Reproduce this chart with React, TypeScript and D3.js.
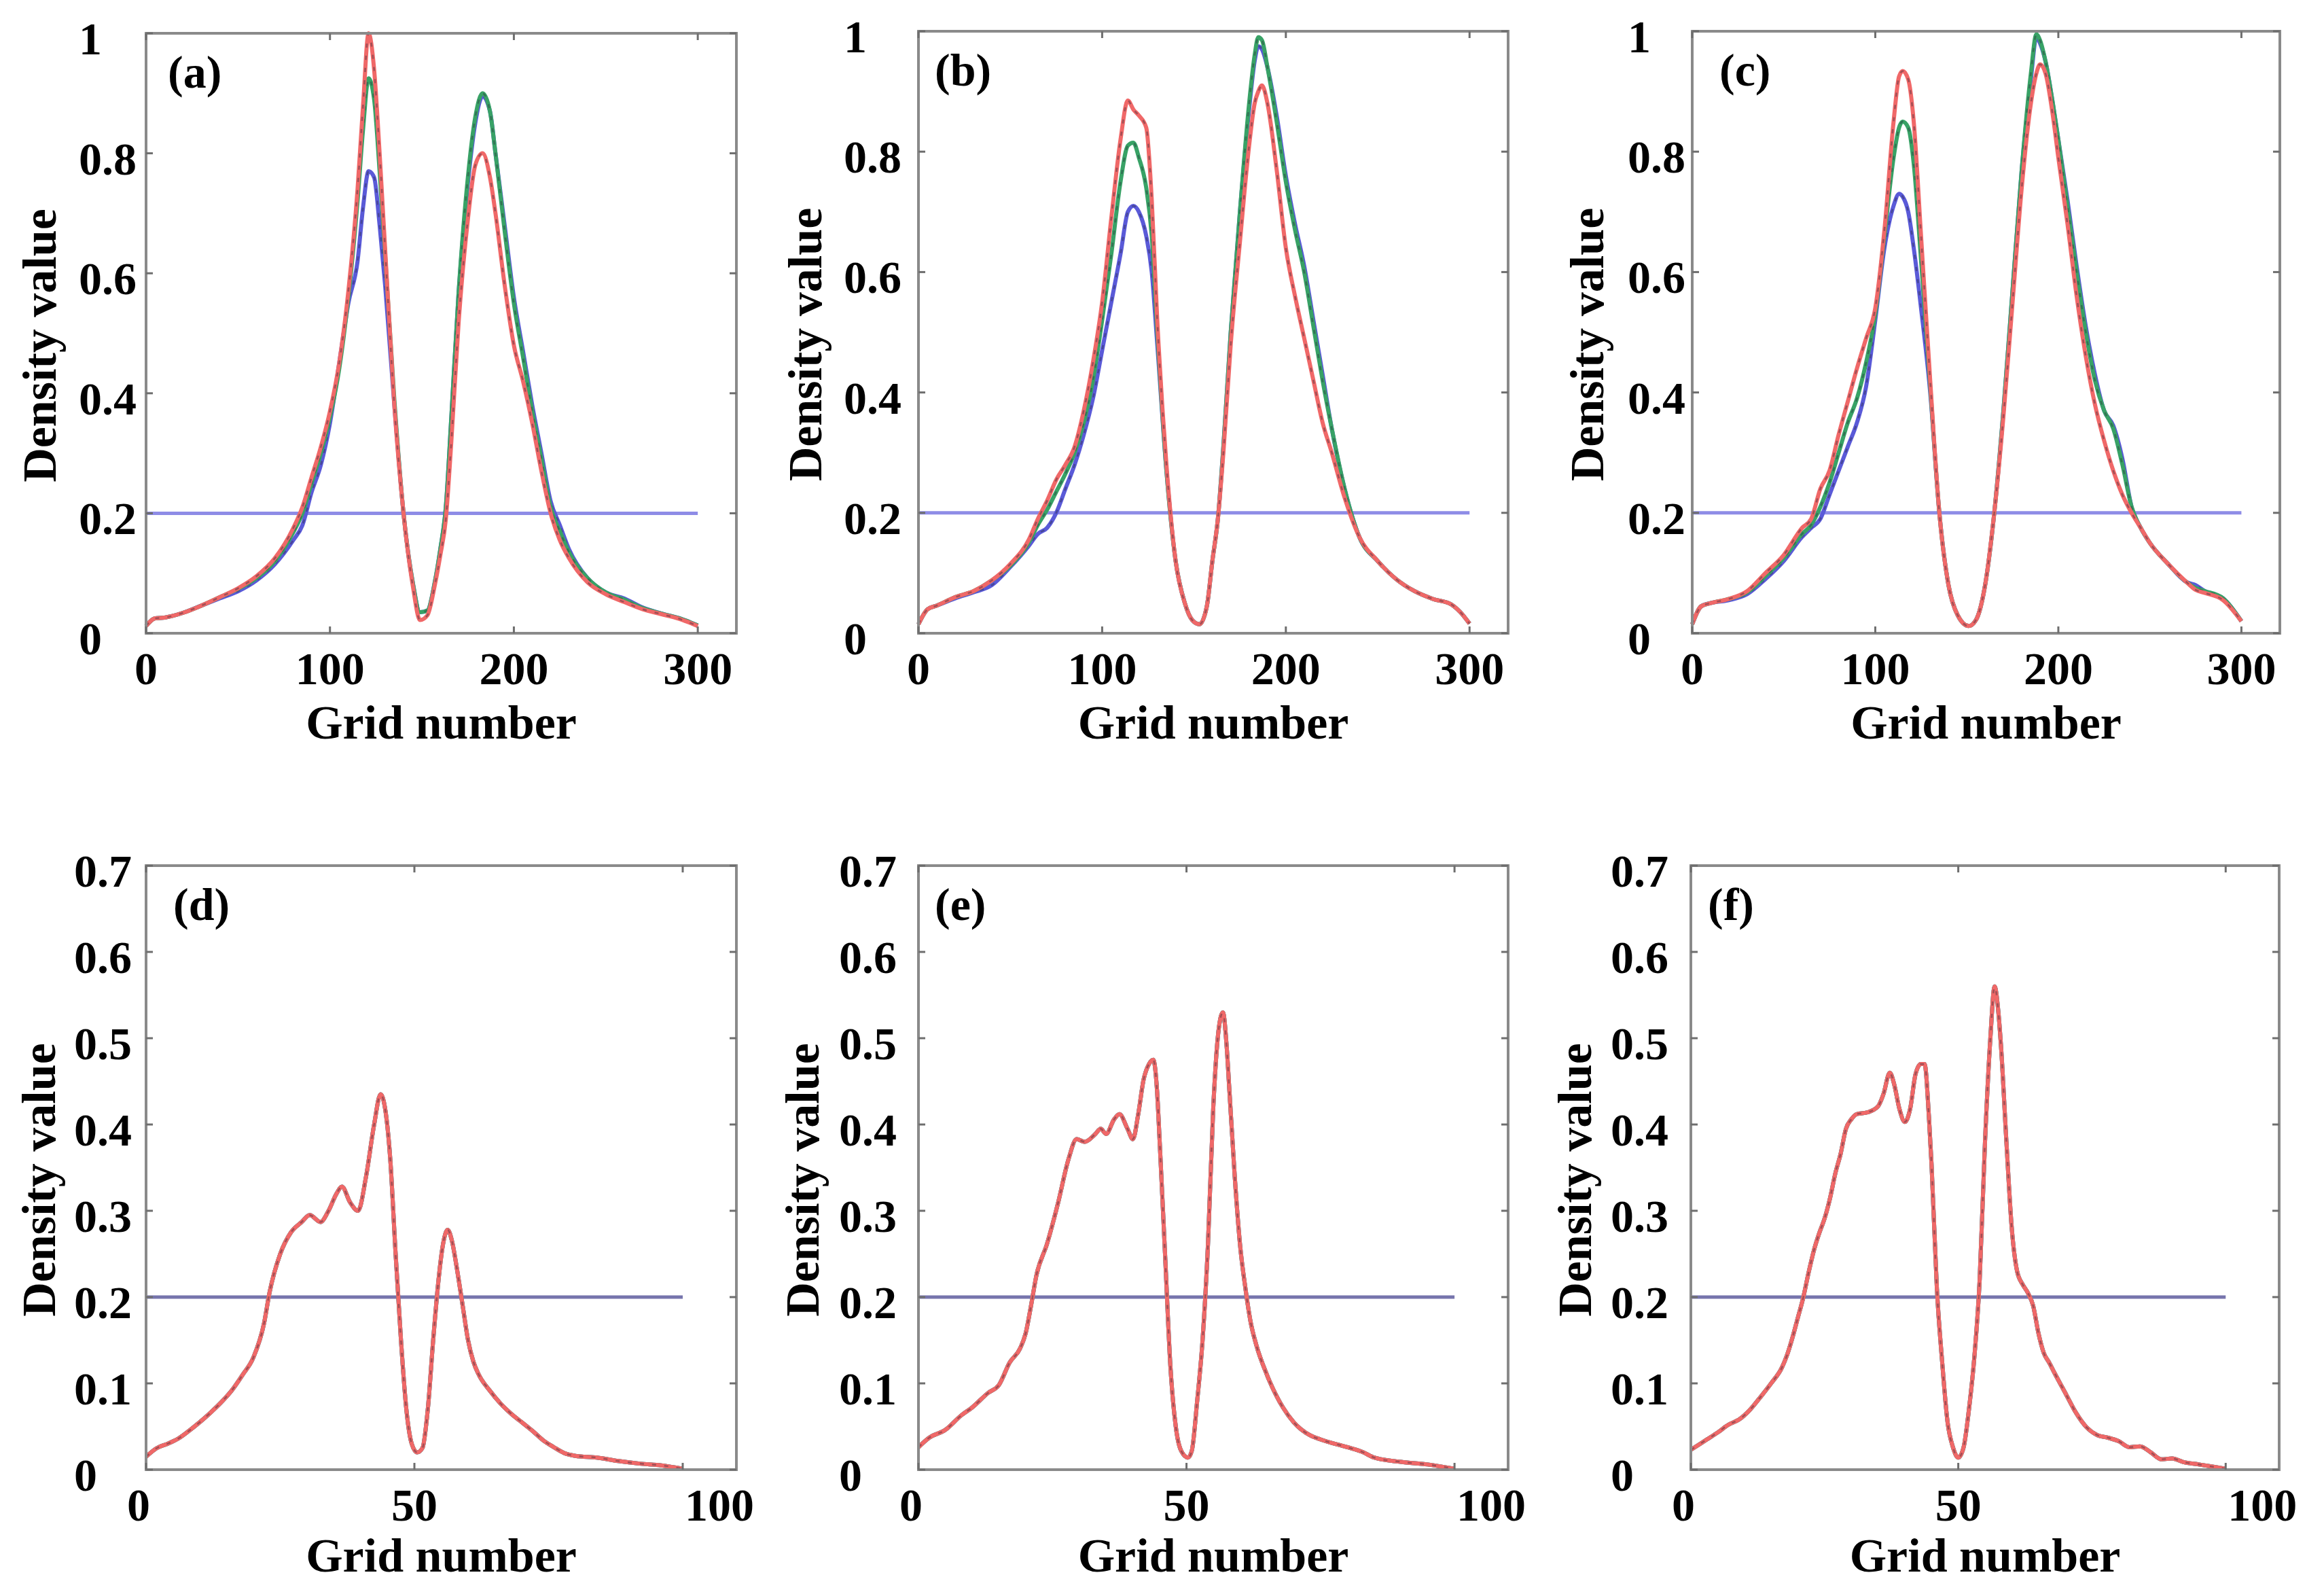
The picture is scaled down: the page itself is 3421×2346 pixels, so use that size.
import { useEffect, useRef } from 'react'
import * as d3 from 'd3'

// ---- data ----
const gridA = [0, 5, 10, 20, 30, 40, 50, 60, 70, 80, 85, 90, 95, 100, 105, 110, 115, 118, 121, 124, 127, 130, 135, 140, 145, 149, 153, 157, 160, 163, 166, 170, 175, 179, 183, 187, 190, 195, 200, 205, 210, 215, 220, 225, 230, 240, 250, 260, 270, 280, 290, 300]
const redA = [0.012, 0.025, 0.026, 0.034, 0.046, 0.06, 0.075, 0.095, 0.125, 0.175, 0.21, 0.26, 0.31, 0.37, 0.45, 0.57, 0.74, 0.88, 1.0, 0.94, 0.8, 0.64, 0.38, 0.2, 0.08, 0.022, 0.03, 0.08, 0.13, 0.19, 0.32, 0.52, 0.69, 0.78, 0.8, 0.76, 0.7, 0.58, 0.48, 0.42, 0.35, 0.27, 0.2, 0.155, 0.125, 0.085, 0.065, 0.052, 0.04, 0.032, 0.024, 0.012]
const greenA = [0.012, 0.025, 0.026, 0.034, 0.046, 0.06, 0.074, 0.092, 0.12, 0.168, 0.2, 0.25, 0.3, 0.36, 0.44, 0.56, 0.72, 0.84, 0.925, 0.89, 0.77, 0.63, 0.39, 0.2, 0.085, 0.035, 0.038, 0.085, 0.14, 0.21, 0.36, 0.57, 0.76, 0.86, 0.9, 0.87, 0.8, 0.67, 0.55, 0.46, 0.37, 0.29, 0.21, 0.17, 0.135, 0.092, 0.068, 0.056, 0.042, 0.033, 0.025, 0.013]
const blueA = [0.012, 0.025, 0.026, 0.034, 0.046, 0.058, 0.07, 0.088, 0.115, 0.155, 0.18, 0.235, 0.28, 0.35, 0.45, 0.55, 0.62, 0.71, 0.77, 0.76, 0.68, 0.58, 0.38, 0.2, 0.085, 0.035, 0.038, 0.085, 0.14, 0.21, 0.36, 0.57, 0.75, 0.85, 0.895, 0.87, 0.8, 0.68, 0.56, 0.47, 0.38, 0.3, 0.22, 0.18, 0.14, 0.092, 0.068, 0.058, 0.043, 0.033, 0.025, 0.013]

const gridB = [0, 5, 10, 20, 30, 40, 50, 60, 65, 70, 75, 80, 85, 90, 95, 100, 105, 110, 114, 117, 120, 124, 127, 130, 135, 140, 145, 149, 153, 157, 160, 163, 166, 170, 175, 180, 183, 185, 187, 190, 195, 200, 205, 210, 215, 220, 225, 232, 240, 250, 260, 270, 280, 290, 295, 300]
const redB = [0.015, 0.04, 0.046, 0.06, 0.07, 0.088, 0.115, 0.155, 0.19, 0.22, 0.255, 0.28, 0.31, 0.37, 0.45, 0.55, 0.69, 0.82, 0.885, 0.87, 0.86, 0.84, 0.72, 0.52, 0.28, 0.12, 0.05, 0.022, 0.015, 0.045, 0.12, 0.19, 0.3, 0.48, 0.65, 0.81, 0.88, 0.9, 0.91, 0.88, 0.77, 0.64, 0.56, 0.49, 0.42, 0.35, 0.3, 0.225, 0.16, 0.12, 0.09, 0.07, 0.057, 0.048, 0.035, 0.016]
const greenB = [0.015, 0.04, 0.046, 0.06, 0.07, 0.088, 0.112, 0.15, 0.18, 0.205, 0.235, 0.265, 0.3, 0.35, 0.42, 0.52, 0.63, 0.75, 0.81, 0.815, 0.79, 0.74, 0.66, 0.5, 0.27, 0.12, 0.05, 0.022, 0.015, 0.045, 0.12, 0.19, 0.31, 0.5, 0.7, 0.88, 0.96, 0.99, 0.985, 0.94, 0.85, 0.75, 0.67, 0.6, 0.51, 0.42, 0.34, 0.24, 0.16, 0.12, 0.09, 0.07, 0.057, 0.048, 0.035, 0.016]
const blueB = [0.015, 0.04, 0.046, 0.058, 0.068, 0.08, 0.11, 0.145, 0.165, 0.175, 0.2, 0.24, 0.28, 0.33, 0.39, 0.47, 0.55, 0.63, 0.7, 0.71, 0.7, 0.66, 0.6, 0.48, 0.27, 0.12, 0.05, 0.022, 0.015, 0.045, 0.12, 0.19, 0.31, 0.5, 0.7, 0.87, 0.95, 0.975, 0.97, 0.94, 0.86, 0.76, 0.68, 0.61, 0.52, 0.43, 0.34, 0.24, 0.16, 0.12, 0.09, 0.07, 0.057, 0.048, 0.035, 0.016]

const gridC = [0, 5, 10, 20, 30, 40, 50, 60, 65, 70, 75, 80, 85, 90, 95, 100, 105, 110, 113, 115, 118, 121, 125, 130, 135, 140, 145, 151, 155, 160, 165, 170, 175, 180, 185, 188, 190, 193, 197, 200, 205, 210, 215, 220, 225, 230, 235, 240, 245, 250, 260, 270, 275, 280, 290, 300]
const redC = [0.015, 0.045, 0.05, 0.057, 0.07, 0.1, 0.13, 0.175, 0.19, 0.24, 0.27, 0.33, 0.385, 0.44, 0.49, 0.54, 0.67, 0.85, 0.925, 0.934, 0.92, 0.85, 0.66, 0.42, 0.2, 0.08, 0.03, 0.012, 0.022, 0.08, 0.2, 0.36, 0.55, 0.74, 0.88, 0.93, 0.945, 0.93, 0.86, 0.79, 0.68, 0.56, 0.46, 0.38, 0.32, 0.27, 0.23, 0.2, 0.175, 0.15, 0.115, 0.085, 0.072, 0.067, 0.055, 0.02]
const greenC = [0.015, 0.045, 0.05, 0.057, 0.068, 0.095, 0.125, 0.165, 0.18, 0.21, 0.25, 0.3, 0.35, 0.39, 0.45, 0.53, 0.66, 0.79, 0.84, 0.85, 0.84, 0.78, 0.62, 0.41, 0.2, 0.08, 0.03, 0.012, 0.022, 0.08, 0.2, 0.37, 0.57, 0.77, 0.93, 0.995, 0.985, 0.95, 0.88, 0.82, 0.71, 0.6, 0.5, 0.42, 0.37, 0.34, 0.28, 0.21, 0.175, 0.15, 0.115, 0.085, 0.075, 0.07, 0.058, 0.02]
const blueC = [0.015, 0.045, 0.05, 0.055, 0.065, 0.09, 0.12, 0.16, 0.175, 0.19, 0.23, 0.27, 0.31, 0.35, 0.41, 0.52, 0.64, 0.71, 0.73, 0.725, 0.7, 0.64, 0.54, 0.4, 0.2, 0.08, 0.03, 0.012, 0.022, 0.08, 0.2, 0.37, 0.57, 0.77, 0.92, 0.99, 0.98, 0.95, 0.88, 0.82, 0.72, 0.61, 0.51, 0.43, 0.37, 0.345, 0.29, 0.21, 0.175, 0.15, 0.115, 0.085, 0.08, 0.07, 0.058, 0.02]

const gridD = [0, 2, 4, 6, 8, 10, 12, 14, 16, 18, 20, 22, 23, 25, 27, 29, 30.5, 32.5, 34, 35.5, 36.5, 38, 39.5, 41, 42.5, 43.7, 44.5, 45.5, 46.5, 47.5, 48.5, 49.5, 50.5, 51.5, 52.5, 53.5, 54.5, 55.3, 56.2, 57, 58, 59, 60, 61, 62, 64, 66, 68, 70, 72, 74, 76, 78, 80, 84, 88, 92, 96, 100]
const densD = [0.015, 0.025, 0.03, 0.036, 0.045, 0.055, 0.066, 0.078, 0.092, 0.11, 0.13, 0.17, 0.205, 0.25, 0.275, 0.287, 0.295, 0.287, 0.3, 0.32, 0.328, 0.31, 0.3, 0.34, 0.4, 0.435, 0.42, 0.36, 0.25, 0.15, 0.07, 0.03, 0.02, 0.025, 0.07, 0.15, 0.22, 0.26, 0.278, 0.265, 0.23, 0.19, 0.15, 0.125, 0.11, 0.092, 0.077, 0.065, 0.055, 0.045, 0.034, 0.026, 0.019, 0.016, 0.014, 0.01, 0.007, 0.005, 0.001]

const gridE = [0, 2, 5, 8, 10, 13, 15, 17, 19, 20, 21, 22, 24, 26, 28, 29.5, 31, 33, 34, 35, 36.5, 37.5, 39, 40, 41, 42, 43, 43.8, 44.5, 45, 46, 47, 48, 49, 50.3, 51, 52, 53, 54, 55, 56, 56.8, 57.5, 58, 59, 60, 61, 62, 63, 65, 68, 70, 73, 75, 80, 83, 85, 90, 95, 100]
const densE = [0.026, 0.037, 0.046, 0.063, 0.072, 0.089, 0.098, 0.124, 0.141, 0.158, 0.19, 0.225, 0.262, 0.308, 0.36, 0.383, 0.38, 0.389, 0.395, 0.389, 0.406, 0.412, 0.395, 0.383, 0.412, 0.452, 0.47, 0.475, 0.44, 0.38, 0.25, 0.12, 0.05, 0.022, 0.014, 0.022, 0.08, 0.15, 0.26, 0.42, 0.51, 0.53, 0.49, 0.44, 0.34, 0.26, 0.21, 0.17, 0.145, 0.11, 0.072, 0.055, 0.04, 0.035, 0.026, 0.02, 0.014, 0.009, 0.006, 0.001]

const gridF = [0, 3, 5, 7, 9, 11, 13, 15, 17, 18, 19, 20, 21, 22, 23, 24, 25, 26, 27, 28, 29, 30, 31, 33, 35, 36, 37.2, 38, 39, 40, 41, 42, 43, 43.7, 44.5, 45, 46, 47, 48, 49, 50, 51, 52, 53, 54, 55, 56, 56.8, 57.5, 58, 59, 60, 61, 62, 63, 64, 65, 66, 67, 68, 70, 72, 74, 76, 78, 80, 82, 84, 86, 88, 90, 92, 95, 100]
const densF = [0.023, 0.035, 0.043, 0.052, 0.058, 0.069, 0.084, 0.1, 0.118, 0.133, 0.153, 0.176, 0.199, 0.228, 0.254, 0.274, 0.291, 0.314, 0.343, 0.366, 0.395, 0.406, 0.412, 0.414, 0.421, 0.435, 0.46, 0.447, 0.418, 0.403, 0.418, 0.458, 0.47, 0.47, 0.41, 0.354, 0.21, 0.124, 0.055, 0.026, 0.014, 0.026, 0.07, 0.13, 0.22, 0.38, 0.5, 0.56, 0.53, 0.49, 0.38, 0.28, 0.23, 0.215, 0.205, 0.19, 0.158, 0.135, 0.124, 0.112, 0.089, 0.066, 0.049, 0.04, 0.037, 0.033, 0.026, 0.027, 0.02, 0.012, 0.013, 0.009, 0.006, 0.001]

const threshold = 0.2
const topXTicks = [0, 100, 200, 300]
const topYTicks = [0, 0.2, 0.4, 0.6, 0.8, 1]
const topYLabels = ['0', '0.2', '0.4', '0.6', '0.8', '1']
const botXTicks = [0, 50, 100]
const botYTicks = [0, 0.1, 0.2, 0.3, 0.4, 0.5, 0.6, 0.7]
const botYLabels = ['0', '0.1', '0.2', '0.3', '0.4', '0.5', '0.6', '0.7']
const panelNames = ['(a)', '(b)', '(c)', '(d)', '(e)', '(f)']

const BLUE = '#5a5ad8'
const GREEN = '#38a266'
const RED = '#f06868'
const FONT = "'Liberation Serif', 'Times New Roman', serif"

type Row = {
  xMax: number
  yMax: number
  xEnd: number
  xTicks: number[]
  yTicks: number[]
  yLabels: string[]
  xLabelDx: number[]
  thresholdColor: string
  titleDy: number
}

const topRow: Row = {
  xMax: 321, yMax: 1, xEnd: 300, xTicks: topXTicks, yTicks: topYTicks, yLabels: topYLabels,
  xLabelDx: [0, 0, 0, 0], thresholdColor: '#8e8ce6', titleDy: 155,
}
const botRow: Row = {
  xMax: 110, yMax: 0.7, xEnd: 100, xTicks: botXTicks, yTicks: botYTicks, yLabels: botYLabels,
  xLabelDx: [-11, 0, 54], thresholdColor: '#7674ac', titleDy: 150,
}

const panels = [
  { row: topRow, box: [215, 1084, 49, 932], tickDx: -99, titleDx: -133, grid: gridA, series: [blueA, greenA, redA] },
  { row: topRow, box: [1352, 2220, 46, 932], tickDx: -110, titleDx: -143, grid: gridB, series: [blueB, greenB, redB] },
  { row: topRow, box: [2491, 3356, 46, 932], tickDx: -95, titleDx: -131, grid: gridC, series: [blueC, greenC, redC] },
  { row: botRow, box: [215, 1084, 1274, 2163], tickDx: -106, titleDx: -134, grid: gridD, series: [densD, densD, densD] },
  { row: botRow, box: [1352, 2220, 1274, 2163], tickDx: -117, titleDx: -147, grid: gridE, series: [densE, densE, densE] },
  { row: botRow, box: [2489, 3355, 1274, 2163], tickDx: -118, titleDx: -147, grid: gridF, series: [densF, densF, densF] },
]
const letterDx = [32, 24, 40, 40, 24, 25]

const App = () => {
  const ref = useRef<SVGSVGElement>(null)

  useEffect(() => {
    if (!ref.current) return
    const svg = d3.select(ref.current)
    svg.selectAll('*').remove()
    svg.append('rect').attr('width', 3421).attr('height', 2346).attr('fill', '#fff')

    panels.forEach((p, idx) => {
      const [left, right, top, bottom] = p.box
      const row = p.row
      const x = d3.scaleLinear().domain([0, row.xMax]).range([left, right])
      const y = d3.scaleLinear().domain([0, row.yMax]).range([bottom, top])
      const g = svg.append('g')

      // threshold line
      g.append('line')
        .attr('x1', x(0)).attr('x2', x(row.xEnd))
        .attr('y1', y(threshold)).attr('y2', y(threshold))
        .attr('stroke', row.thresholdColor).attr('stroke-width', 5)

      // curves: blue, green, red, each with a faint dark dashed overlay
      const line = d3.line<number>()
        .x((_, i) => x(p.grid[i]))
        .y((d) => y(d))
        .curve(d3.curveMonotoneX)
      const colors = [BLUE, GREEN, RED]
      p.series.forEach((vals, si) => {
        g.append('path')
          .attr('d', line(vals))
          .attr('fill', 'none')
          .attr('stroke', colors[si])
          .attr('stroke-width', 6)
          .attr('stroke-linejoin', 'round')
        g.append('path')
          .attr('d', line(vals))
          .attr('fill', 'none')
          .attr('stroke', '#2a2a3a')
          .attr('stroke-width', 2.6)
          .attr('stroke-dasharray', '6 12')
          .attr('opacity', 0.4)
      })

      // box
      g.append('rect')
        .attr('x', left).attr('y', top)
        .attr('width', right - left).attr('height', bottom - top)
        .attr('fill', 'none').attr('stroke', '#8a8a8a').attr('stroke-width', 4)

      // inward tick marks
      const tl = 10
      row.xTicks.forEach((t) => {
        g.append('line').attr('x1', x(t)).attr('x2', x(t)).attr('y1', bottom).attr('y2', bottom - tl)
          .attr('stroke', '#6e6e6e').attr('stroke-width', 3)
        g.append('line').attr('x1', x(t)).attr('x2', x(t)).attr('y1', top).attr('y2', top + tl)
          .attr('stroke', '#6e6e6e').attr('stroke-width', 3)
      })
      row.yTicks.forEach((t) => {
        g.append('line').attr('x1', left).attr('x2', left + tl).attr('y1', y(t)).attr('y2', y(t))
          .attr('stroke', '#6e6e6e').attr('stroke-width', 3)
        g.append('line').attr('x1', right).attr('x2', right - tl).attr('y1', y(t)).attr('y2', y(t))
          .attr('stroke', '#6e6e6e').attr('stroke-width', 3)
      })

      // tick labels
      row.xTicks.forEach((t, i) => {
        g.append('text')
          .attr('x', x(t) + row.xLabelDx[i])
          .attr('y', bottom + 75)
          .attr('text-anchor', 'middle')
          .style('font-family', FONT).style('font-weight', 700).style('font-size', '68px')
          .text(String(t))
      })
      row.yTicks.forEach((t, i) => {
        g.append('text')
          .attr('x', left + p.tickDx)
          .attr('y', y(t) + 8)
          .attr('dominant-baseline', 'central')
          .style('font-family', FONT).style('font-weight', 700).style('font-size', '68px')
          .text(row.yLabels[i])
      })

      // axis titles
      g.append('text')
        .attr('x', (left + right) / 2)
        .attr('y', bottom + row.titleDy)
        .attr('text-anchor', 'middle')
        .style('font-family', FONT).style('font-weight', 700).style('font-size', '70px')
        .text('Grid number')
      const cy = (top + bottom) / 2 + 18
      g.append('text')
        .attr('transform', `translate(${left + p.titleDx},${cy}) rotate(-90)`)
        .attr('text-anchor', 'middle')
        .style('font-family', FONT).style('font-weight', 700).style('font-size', '70px')
        .text('Density value')

      // panel letter
      g.append('text')
        .attr('x', left + letterDx[idx])
        .attr('y', top + 80)
        .style('font-family', FONT).style('font-weight', 700).style('font-size', '68px')
        .text(panelNames[idx])
    })
  }, [])

  return (
    <svg
      ref={ref}
      width={3421}
      height={2346}
      style={{ position: 'absolute', left: 0, top: 0, display: 'block' }}
    />
  )
}

export default App
